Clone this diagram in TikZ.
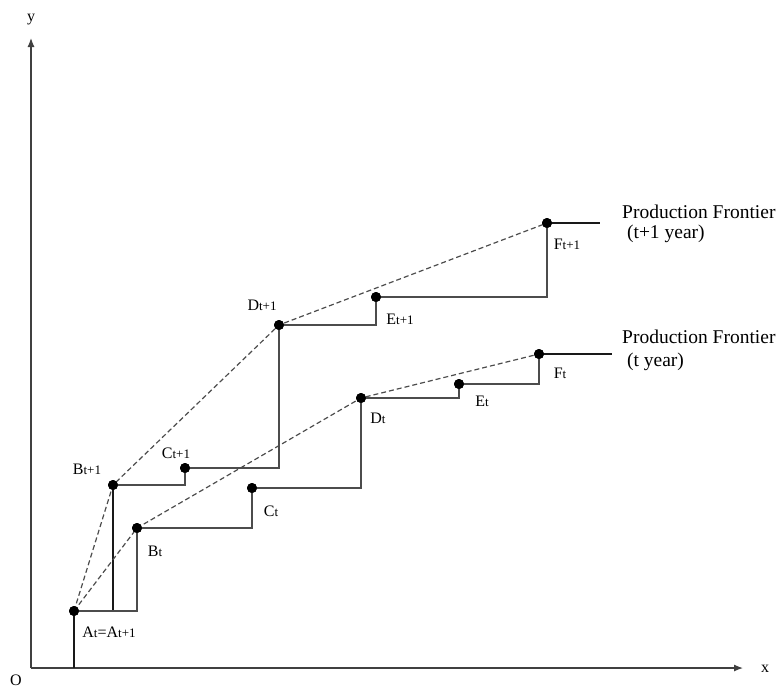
\documentclass[tikz,border=0pt]{standalone}
\usepackage{fontspec}
\setmainfont{Liberation Serif}
\usetikzlibrary{arrows.meta}
\newcommand\ptlab[2]{{\fontsize{16}{16}\selectfont #1}{\fontsize{13}{13}\selectfont #2}}
\tikzset{
  dot/.style={circle,fill=black,inner sep=0pt,minimum size=10pt},
  stepline/.style={draw=black!70,line width=1.2pt},
  dropline/.style={draw=black!90,line width=1.2pt},
  front/.style={draw=black!70,line width=1.2pt,dash pattern=on 5pt off 3pt},
  axis/.style={draw=black!75,line width=1.2pt,-{Latex[length=9pt,width=7pt]}},
  lbl/.style={inner sep=0pt,font=\fontsize{16}{16}\selectfont},
  big/.style={inner sep=0pt,anchor=west,font=\fontsize{19.5}{19.5}\selectfont}
}
\begin{document}
\begin{tikzpicture}[x=1pt,y=-1pt]
\useasboundingbox (0,0) rectangle (783,688);
% axes
\coordinate (O) at (31,668);
\coordinate (ytip) at (31,38);
\coordinate (xtip) at (743,668);
\draw[axis] (O) -- (ytip);
\draw[axis] (O) -- (xtip);
\node[lbl] (ylab) at (31,20) {y};
\node[lbl] (xlab) at (765,669) {x};
\node[lbl] (olab) at (16,680) {O};
% points
\node[dot] (A) at (74,611) {};
\node[dot] (Bp) at (113,485) {};
\node[dot] (Bt) at (137,528) {};
\node[dot] (Cp) at (185,468) {};
\node[dot] (Ct) at (252,488) {};
\node[dot] (Dp) at (279,325) {};
\node[dot] (Dt) at (361,398) {};
\node[dot] (Ep) at (376,297) {};
\node[dot] (Et) at (459,384) {};
\node[dot] (Fp) at (547,223) {};
\node[dot] (Ft) at (539,354) {};
% free ends
\coordinate (Abase) at (74,668);
\coordinate (Bpbase) at (113,611);
\coordinate (Fpend) at (600,223);
\coordinate (Ftend) at (612,354);
% drop lines
\draw[dropline] (A.center) -- (Abase);
\draw[dropline] (Bp.center) -- (Bpbase);
\draw[dropline] (Fp.center) -- (Fpend);
\draw[dropline] (Ft.center) -- (Ftend);
% steps, t+1
\draw[stepline] (Bp.center) -| (Cp.center);
\draw[stepline] (Cp.center) -| (Dp.center);
\draw[stepline] (Dp.center) -| (Ep.center);
\draw[stepline] (Ep.center) -| (Fp.center);
% steps, t
\draw[stepline] (A.center) -| (Bt.center);
\draw[stepline] (Bt.center) -| (Ct.center);
\draw[stepline] (Ct.center) -| (Dt.center);
\draw[stepline] (Dt.center) -| (Et.center);
\draw[stepline] (Et.center) -| (Ft.center);
% frontiers
\draw[front] (A.center) -- (Bp.center) -- (Dp.center) -- (Fp.center);
\draw[front] (A.center) -- (Bt.center) -- (Dt.center) -- (Ft.center);
% dots on top
\foreach \p in {A,Bp,Bt,Cp,Ct,Dp,Dt,Ep,Et,Fp,Ft} {\fill (\p) circle (5pt);}
% labels
\node[lbl] (lA) at (109,632) {\ptlab{A}{t}{\fontsize{16}{16}\selectfont =A}{\fontsize{13}{13}\selectfont t+1}};
\node[lbl] (lBp) at (87,469) {\ptlab{B}{t+1}};
\node[lbl] (lBt) at (155,551) {\ptlab{B}{t}};
\node[lbl] (lCp) at (176,453) {\ptlab{C}{t+1}};
\node[lbl] (lCt) at (271,511) {\ptlab{C}{t}};
\node[lbl] (lDp) at (262,305) {\ptlab{D}{t+1}};
\node[lbl] (lDt) at (378,418) {\ptlab{D}{t}};
\node[lbl] (lEp) at (400,319) {\ptlab{E}{t+1}};
\node[lbl] (lEt) at (482,401) {\ptlab{E}{t}};
\node[lbl] (lFp) at (567,244) {\ptlab{F}{t+1}};
\node[lbl] (lFt) at (560,373) {\ptlab{F}{t}};
\node[big] (pf1) at (622,212) {Production Frontier};
\node[big] (pf1b) at (622,234) {\ (t+1 year)};
\node[big] (pf2) at (622,337) {Production Frontier};
\node[big] (pf2b) at (622,362) {\ (t year)};
\end{tikzpicture}
\end{document}
